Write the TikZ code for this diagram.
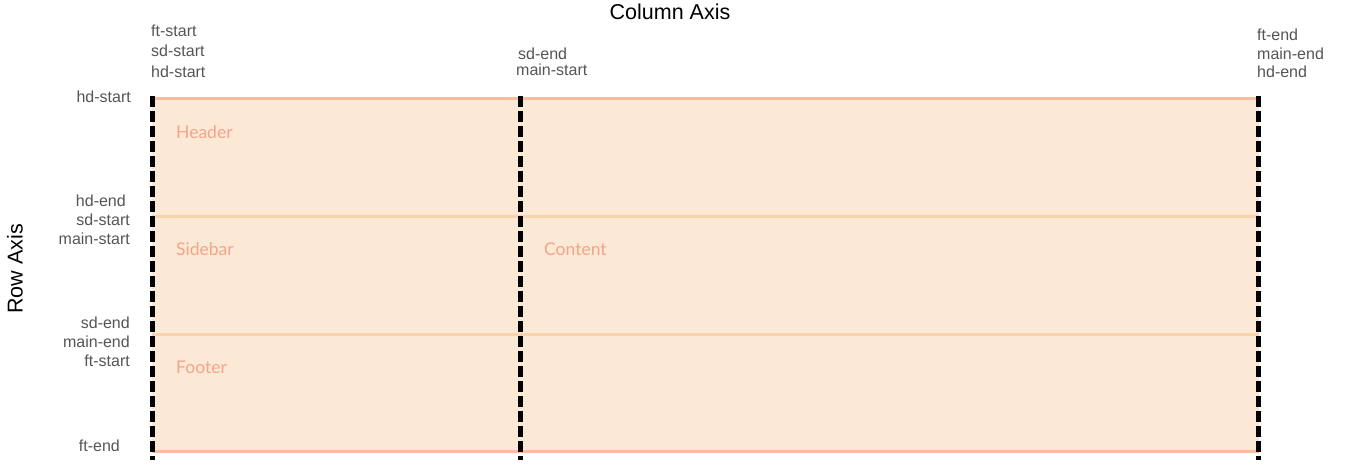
\documentclass[tikz,border=0pt]{standalone}
\usepackage{fontspec}
\setmainfont{Liberation Sans}
\newfontfamily\regionfont{Lato}
\definecolor{areafill}{HTML}{FCE9D5}
\definecolor{edgeline}{HTML}{F9BC9E}
\definecolor{midline}{HTML}{F9D3AE}
\definecolor{lbl}{HTML}{555555}
\definecolor{regiontxt}{HTML}{F4A48A}
\tikzset{
  lineidx/.style={font=\fontsize{16}{18}\selectfont, text=lbl, inner sep=0pt},
  region/.style={font=\regionfont\fontsize{17.5}{19}\selectfont, text=regiontxt, inner sep=0pt, anchor=west},
  axistitle/.style={font=\fontsize{21.5}{23}\selectfont, text=black, inner sep=0pt},
  gridline/.style={line width=5pt, black, dash pattern=on 11pt off 4pt},
}
\begin{document}
\begin{tikzpicture}[x=1pt,y=-1pt]
\useasboundingbox (0,0) rectangle (1346,464);
% area
\fill[areafill] (152,98) rectangle (1259,452);
\draw[edgeline, line width=3pt] (152,98.5) -- (1259,98.5);
\draw[edgeline, line width=3pt] (152,451.5) -- (1259,451.5);
\draw[midline, line width=3pt] (152,216) -- (1259,216);
\draw[midline, line width=3pt] (152,334) -- (1259,334);
% dashed column lines
\coordinate (c1t) at (152.5,96); \coordinate (c1b) at (152.5,460);
\coordinate (c2t) at (520.5,96); \coordinate (c2b) at (520.5,460);
\coordinate (c3t) at (1258.5,96); \coordinate (c3b) at (1258.5,460);
\draw[gridline] (c1t) -- (c1b);
\draw[gridline] (c2t) -- (c2b);
\draw[gridline] (c3t) -- (c3b);
% titles
\node[axistitle] (coltitle) at (670,12) {Column Axis};
\node[axistitle, rotate=90] (rowtitle) at (15,269) {Row Axis};
% top labels
\node[lineidx, anchor=west] (t1) at (151,31) {ft-start};
\node[lineidx, anchor=west] (t2) at (151,51) {sd-start};
\node[lineidx, anchor=west] (t3) at (151,72) {hd-start};
\node[lineidx, anchor=west] (t4) at (518,54) {sd-end};
\node[lineidx, anchor=west] (t5) at (516,70) {main-start};
\node[lineidx, anchor=west] (t6) at (1257,35) {ft-end};
\node[lineidx, anchor=west] (t7) at (1257,54) {main-end};
\node[lineidx, anchor=west] (t8) at (1257,72) {hd-end};
% left labels
\node[lineidx, anchor=east] (l1) at (131,97) {hd-start};
\node[lineidx, anchor=east] (l2) at (126,201) {hd-end};
\node[lineidx, anchor=east] (l3) at (130,220) {sd-start};
\node[lineidx, anchor=east] (l4) at (130,239) {main-start};
\node[lineidx, anchor=east] (l5) at (130,323) {sd-end};
\node[lineidx, anchor=east] (l6) at (130,342) {main-end};
\node[lineidx, anchor=east] (l7) at (130,361) {ft-start};
\node[lineidx, anchor=east] (l8) at (120,446) {ft-end};
% regions
\node[region] (hdr) at (176,132) {Header};
\node[region] (sdb) at (176,249) {Sidebar};
\node[region] (cnt) at (544,249) {Content};
\node[region] (ftr) at (176,367) {Footer};
\end{tikzpicture}
\end{document}
